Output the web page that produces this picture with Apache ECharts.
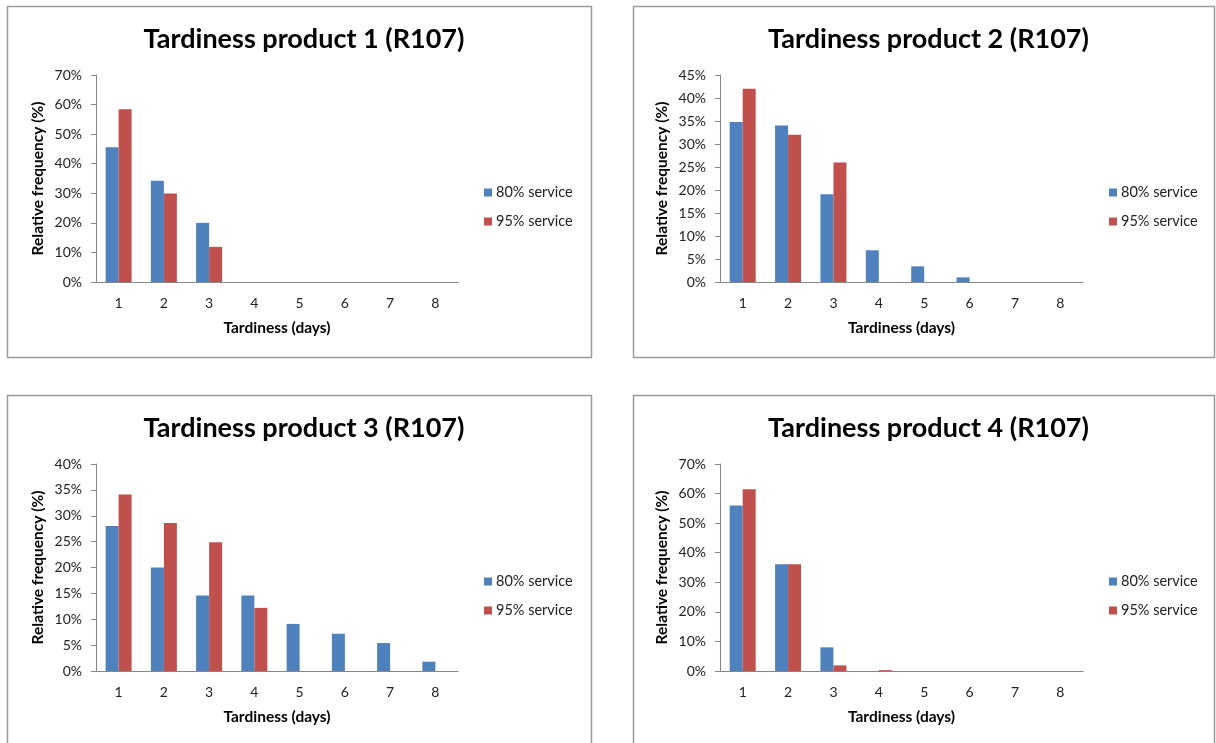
<!DOCTYPE html>
<html>
<head>
<meta charset="utf-8">
<script src="https://cdn.jsdelivr.net/npm/echarts@6/dist/echarts.min.js"></script>
<style>
  html, body { margin: 0; padding: 0; background: #fff; }
  #main { width: 1216px; height: 743px; }
</style>
</head>
<body>
<div id="main"></div>
<script>
// Tardiness distribution per product (relative frequency, %)
const days = ['1', '2', '3', '4', '5', '6', '7', '8'];
const seriesNames = ['80% service', '95% service'];
const titles = [
  'Tardiness product 1 (R107)',
  'Tardiness product 2 (R107)',
  'Tardiness product 3 (R107)',
  'Tardiness product 4 (R107)'
];

const p1Service80 = [45.6, 34.2, 20.0, 0, 0, 0, 0, 0];
const p1Service95 = [58.4, 29.9, 11.9, 0, 0, 0, 0, 0];
const p2Service80 = [34.8, 34.0, 19.1, 6.9, 3.4, 1.0, 0, 0];
const p2Service95 = [42.0, 32.0, 26.0, 0, 0, 0, 0, 0];
const p3Service80 = [28.0, 20.0, 14.6, 14.6, 9.1, 7.2, 5.4, 1.8];
const p3Service95 = [34.1, 28.6, 24.9, 12.2, 0, 0, 0, 0];
const p4Service80 = [56.0, 36.1, 8.0, 0, 0, 0, 0, 0];
const p4Service95 = [61.5, 36.1, 1.9, 0.3, 0, 0, 0, 0];

const yMax = [70, 45, 40, 70];
const yStep = [10, 5, 5, 10];

const panelData = [
  [p1Service80, p1Service95],
  [p2Service80, p2Service95],
  [p3Service80, p3Service95],
  [p4Service80, p4Service95]
];

const FONT = 'Lato, "Open Sans", sans-serif';
const colors = ['#4F81BD', '#C0504D'];

// panel frames and plot rectangles
const frames = [
  { x: 7, y: 6, w: 584, h: 351 },
  { x: 633, y: 6, w: 581, h: 351 },
  { x: 7, y: 395, w: 584, h: 370 },
  { x: 633, y: 395, w: 581, h: 370 }
];
const plots = [
  { left: 96, top: 75, right: 458, bottom: 282 },
  { left: 720, top: 75, right: 1083, bottom: 282 },
  { left: 96, top: 464, right: 458, bottom: 671 },
  { left: 720, top: 464, right: 1083, bottom: 671 }
];

const axisColor = '#868686';
const option = {
  animation: false,
  textStyle: { fontFamily: FONT },
  title: [], legend: [], grid: [], xAxis: [], yAxis: [], series: [],
  graphic: frames.map(f => ({
    type: 'rect',
    shape: { x: f.x + 0.5, y: f.y + 0.5, width: f.w, height: f.h },
    style: { fill: null, stroke: '#9a9a9a', lineWidth: 1.5 },
    z: -1
  }))
};

plots.forEach((p, i) => {
  const f = frames[i];
  option.title.push({
    text: titles[i],
    left: f.x + f.w / 2,
    top: f.y + 15,
    textAlign: 'center',
    textStyle: { fontFamily: FONT, fontSize: 27, fontWeight: 'bold', color: '#000' }
  });
  option.legend.push({
    data: seriesNames,
    orient: 'vertical',
    left: p.right + 21,
    top: p.top + 105,
    icon: 'rect',
    itemWidth: 8,
    itemHeight: 8,
    itemGap: 14,
    itemStyle: { borderWidth: 0 },
    textStyle: { fontFamily: FONT, fontSize: 14.5, color: '#222', padding: [0, 0, 0, -1] }
  });
  option.grid.push({
    left: p.left,
    top: p.top,
    width: p.right - p.left,
    height: p.bottom - p.top,
    containLabel: false
  });
  option.xAxis.push({
    type: 'category',
    gridIndex: i,
    data: days,
    name: 'Tardiness (days)',
    nameLocation: 'middle',
    nameGap: 38,
    nameTextStyle: { fontFamily: FONT, fontSize: 15.5, fontWeight: 'bold', color: '#000' },
    axisLine: { lineStyle: { color: axisColor, width: 1 } },
    axisTick: { length: 5, lineStyle: { color: axisColor } },
    axisLabel: { fontFamily: FONT, fontSize: 14, color: '#222', margin: 14 }
  });
  option.yAxis.push({
    type: 'value',
    gridIndex: i,
    min: 0,
    max: yMax[i],
    interval: yStep[i],
    name: 'Relative frequency (%)',
    nameLocation: 'middle',
    nameGap: 50,
    nameTextStyle: { fontFamily: FONT, fontSize: 15.5, fontWeight: 'bold', color: '#000' },
    axisLine: { show: true, lineStyle: { color: axisColor, width: 1 } },
    axisTick: { show: true, length: 5, lineStyle: { color: axisColor } },
    splitLine: { show: false },
    axisLabel: { fontFamily: FONT, fontSize: 14, color: '#222', margin: 14, formatter: '{value}%' }
  });
  panelData[i].forEach((vals, s) => {
    option.series.push({
      type: 'bar',
      name: seriesNames[s],
      xAxisIndex: i,
      yAxisIndex: i,
      data: vals,
      barWidth: 13,
      barGap: '0%',
      itemStyle: { color: colors[s] }
    });
  });
});

const chart = echarts.init(document.getElementById('main'), null, { renderer: 'canvas' });
chart.setOption(option);
</script>
</body>
</html>
